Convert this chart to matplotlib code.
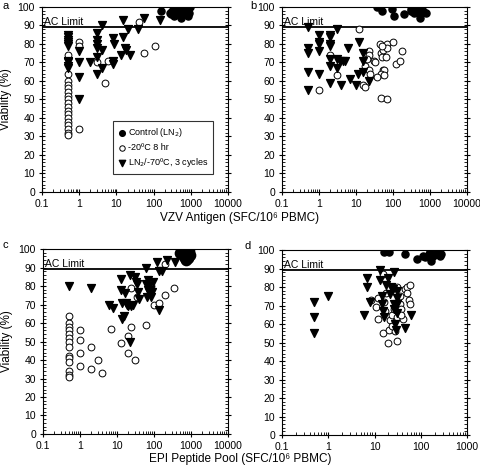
import numpy as np
import matplotlib.pyplot as plt
from matplotlib.ticker import LogLocator, NullFormatter, MultipleLocator, FuncFormatter

plt.rcParams['font.family'] = ['Liberation Sans', 'DejaVu Sans']

# ---- panel a: VZV antigen ----
a_ctrl_x = [160, 280, 300, 320, 350, 380, 420, 450, 500, 550, 600, 650, 700, 800, 900, 950, 850, 400, 330, 480]
a_ctrl_y = [98, 97, 96, 98, 95, 97, 99, 96, 100, 94, 97, 98, 96, 99, 97, 100, 95, 97, 98, 98]
a_m20_x = [0.5] * 18 + [1, 1, 1, 3, 5, 6, 40, 55, 110]
a_m20_y = [74, 64, 60, 58, 56, 54, 52, 50, 48, 46, 44, 42, 40, 38, 36, 34, 32, 31,
           81, 79, 34, 70, 59, 71, 92, 75, 79]
a_cyc_x = [0.5] * 10 + [1, 1, 1, 1, 2, 3, 3, 3, 3, 3, 3, 4.2, 4.2, 4.2, 8, 8.5, 8, 8.2,
           13, 15, 15, 17, 18, 20, 23, 37, 55, 150]
a_cyc_y = [85, 84, 82, 81, 80, 79, 71, 70, 68, 67, 76, 70, 62, 50, 70, 86, 82, 80, 78, 73, 64,
           90, 77, 67, 83, 80, 71, 69, 74, 93, 84, 78, 77, 88, 74, 88, 94, 93]

# ---- panel b: VZV antigen ----
b_ctrl_x = [37, 50, 95, 105, 200, 300, 330, 370, 500, 560, 530, 650, 800, 310, 400]
b_ctrl_y = [100, 98, 99, 95, 96, 99, 98, 97, 99, 97, 94, 98, 97, 98, 98]
b_m20_x = [1, 2, 3, 12, 22, 22, 20, 18, 22, 24, 15, 18, 30, 32, 45, 47, 50, 55, 52, 57, 47,
           38, 57, 64, 70, 68, 100, 120, 150, 180, 48, 70, 50]
b_m20_y = [55, 74, 63, 88, 76, 74, 72, 68, 66, 64, 58, 57, 71, 70, 80, 75, 73, 77, 66, 66, 64,
           62, 63, 73, 80, 78, 81, 69, 71, 76, 51, 50, 79]
b_cyc_x = [0.5, 0.5, 0.5, 0.5, 0.5, 1, 1, 1, 1, 1, 2, 2, 2, 2, 2, 2, 2, 3, 3, 3, 3.8, 4.5, 5,
           4, 6, 7, 10, 11.5, 12, 15, 15, 15, 22]
b_cyc_y = [89, 78, 75, 65, 55, 85, 81, 80, 76, 64, 85, 84, 80, 79, 72, 68, 59, 88, 72, 67, 71,
           71, 71, 58, 78, 61, 58, 64, 81, 75, 71, 65, 60]

# ---- panel c: EPI peptide pool ----
c_ctrl_x = [500, 650, 700, 780, 830, 650, 850, 750, 950, 900, 600, 800, 560, 700, 880]
c_ctrl_y = [98, 99, 97, 100, 95, 96, 98, 94, 97, 99, 98, 96, 100, 95, 97]
c_m20_x = [0.5] * 14 + [1, 1, 1, 1, 2, 2, 3, 4, 7, 13, 20, 20, 24, 24, 30, 35, 60, 100, 140,
           200, 200, 350, 85]
c_m20_y = [64, 60, 58, 56, 54, 52, 50, 47, 42, 41, 39, 34, 32, 31, 56, 51, 44, 37, 47, 35, 40,
           33, 57, 49, 53, 44, 58, 79, 40, 74, 59, 70, 71, 75, 92, 79, 80]
c_cyc_x = [0.5, 2, 6, 8, 13, 13, 14, 14, 15, 16, 17, 19, 20, 22, 24, 23, 27, 30, 33, 35, 37, 39,
           62, 62, 65, 70, 75, 80, 85, 90, 95, 120, 135, 140, 160, 220, 380, 68, 72]
c_cyc_y = [80, 79, 70, 68, 84, 78, 71, 62, 64, 76, 71, 70, 69, 86, 69, 50, 70, 85, 82, 81, 77, 73,
           90, 81, 74, 83, 80, 78, 74, 77, 82, 93, 67, 88, 88, 94, 93, 78, 77]

# ---- panel d: EPI peptide pool ----
d_ctrl_x = [16, 21, 46, 83, 113, 123, 150, 160, 165, 180, 225, 255, 280, 265, 155]
d_ctrl_y = [99, 99, 98, 95, 97, 96, 98, 99, 94, 97, 99, 98, 98, 97, 96]
d_m20_x = [15, 8.5, 12, 11, 12, 15, 16, 17, 18, 22, 21, 20, 23.6, 26, 27, 31, 31, 32, 32, 30,
           36, 38, 42, 46, 50, 50, 55, 59, 59, 38, 35, 28, 24]
d_m20_y = [87, 73, 74, 69, 63, 55, 72, 67, 77, 62, 57, 50, 65, 68, 78, 80, 64, 72, 69, 51,
           71, 68, 63, 79, 80, 77, 73, 81, 71, 65, 75, 56, 59]
d_cyc_x = [0.5, 0.5, 0.5, 1.0, 6, 7, 7, 7.8, 13, 13.3, 14.5, 14.5, 15, 16, 18, 20, 22, 23, 25,
           26, 27, 27, 28, 29, 30, 31, 31, 30, 45, 61]
d_cyc_y = [72, 64, 55, 75, 65, 85, 80, 72, 89, 84, 75, 71, 67, 64, 81, 85, 76, 80, 79,
           68, 88, 71, 60, 57, 71, 78, 74, 66, 58, 65]

ac_limit = 89

fig = plt.figure(figsize=(4.8, 4.67), dpi=100)
ax_a = fig.add_axes([0.0875, 0.589, 0.3875, 0.396])
ax_b = fig.add_axes([0.5875, 0.589, 0.3855, 0.396])
ax_c = fig.add_axes([0.0896, 0.0707, 0.3854, 0.396])
ax_d = fig.add_axes([0.5875, 0.0685, 0.3855, 0.396])


def plain(v, pos):
    return '%g' % v


def draw(ax, cx, cy, mx, my, tx, ty, xmax, csize=26):
    ax.scatter(cx, cy, s=csize, c='black', marker='o', zorder=3, label='Control (LN$_2$)')
    ax.scatter(mx, my, s=24, facecolors='white', edgecolors='black', linewidths=0.7,
               marker='o', zorder=3, label='-20ºC 8 hr')
    ax.scatter(tx, ty, s=32, c='black', marker='v', zorder=3, label='LN$_2$/-70ºC, 3 cycles')
    ax.axhline(ac_limit, color='black', lw=1.3, zorder=2)
    ax.text(0.113, ac_limit + 1.3, 'AC Limit', fontsize=7.5)
    ax.set_xscale('log')
    ax.set_xlim(0.1, xmax)
    ax.set_ylim(0, 100)
    ax.xaxis.set_major_locator(LogLocator(base=10, numticks=12))
    ax.xaxis.set_minor_locator(LogLocator(base=10, subs=np.arange(2, 10), numticks=12))
    ax.xaxis.set_major_formatter(FuncFormatter(plain))
    ax.xaxis.set_minor_formatter(NullFormatter())
    ax.yaxis.set_major_locator(MultipleLocator(10))
    ax.yaxis.set_minor_locator(MultipleLocator(2))
    ax.tick_params(which='both', right=True, top=False, labelsize=7.5)
    ax.tick_params(which='major', direction='inout', length=5, pad=2.5)
    ax.tick_params(which='minor', direction='in', length=2)
    for s in ax.spines.values():
        s.set_linewidth(0.8)


draw(ax_a, a_ctrl_x, a_ctrl_y, a_m20_x, a_m20_y, a_cyc_x, a_cyc_y, 10000)
draw(ax_b, b_ctrl_x, b_ctrl_y, b_m20_x, b_m20_y, b_cyc_x, b_cyc_y, 10000)
draw(ax_c, c_ctrl_x, c_ctrl_y, c_m20_x, c_m20_y, c_cyc_x, c_cyc_y, 10000, csize=55)
draw(ax_d, d_ctrl_x, d_ctrl_y, d_m20_x, d_m20_y, d_cyc_x, d_cyc_y, 1000)

fig.text(0.006, 0.987, 'a', fontsize=8, va='center')
fig.text(0.522, 0.987, 'b', fontsize=8, va='center')
fig.text(0.006, 0.475, 'c', fontsize=8, va='center')
fig.text(0.51, 0.473, 'd', fontsize=8, va='center')

for ax in (ax_a, ax_c):
    ax.set_ylabel('Viability (%)', fontsize=8.5)
    ax.yaxis.set_label_coords(-0.16, 0.5)

leg = ax_a.legend(loc='lower right', bbox_to_anchor=(0.945, 0.075), fontsize=6.5,
                  frameon=True, fancybox=False, edgecolor='black', handletextpad=0.2,
                  borderpad=0.5, labelspacing=0.45, handlelength=1.0, scatterpoints=1,
                  markerscale=0.8)
leg.get_frame().set_linewidth(0.8)

fig.text(0.5, 0.533, 'VZV Antigen (SFC/10⁶ PBMC)', ha='center', va='center', fontsize=8.5)
fig.text(0.5, 0.017, 'EPI Peptide Pool (SFC/10⁶ PBMC)', ha='center', va='center', fontsize=8.5)

fig.savefig('out.png', dpi=100)
